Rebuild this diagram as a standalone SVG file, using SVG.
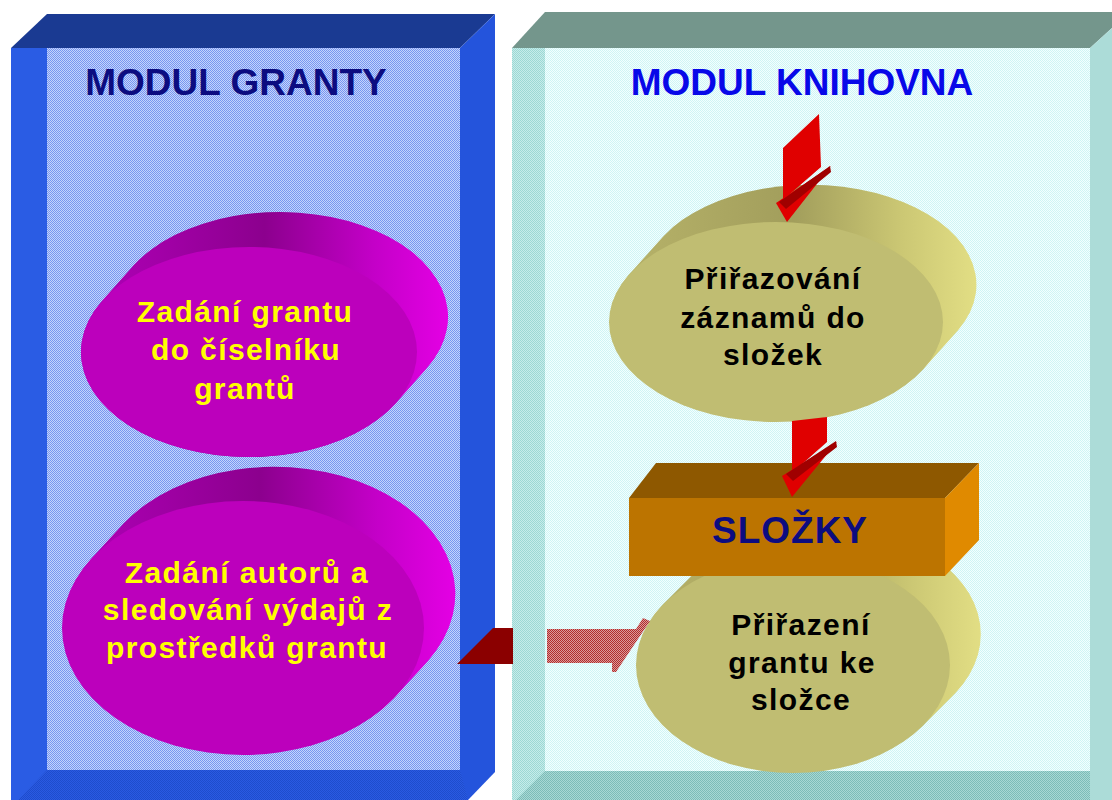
<svg xmlns="http://www.w3.org/2000/svg" width="1112" height="800" viewBox="0 0 1112 800">
<defs>
  <pattern id="dBlue" width="2" height="2" patternUnits="userSpaceOnUse"><rect width="2" height="2" fill="#c4d4fc"/><rect width="1" height="1" fill="#7896f0"/><rect x="1" y="1" width="1" height="1" fill="#7896f0"/></pattern>
  <pattern id="dBlueSide" width="2" height="2" patternUnits="userSpaceOnUse"><rect width="2" height="2" fill="#2a5ae2"/><rect width="1" height="1" fill="#1e4ccc"/><rect x="1" y="1" width="1" height="1" fill="#1e4ccc"/></pattern>
  <pattern id="dCyan" width="2" height="2" patternUnits="userSpaceOnUse"><rect width="2" height="2" fill="#f2ffff"/><rect width="1" height="1" fill="#d0f4f4"/><rect x="1" y="1" width="1" height="1" fill="#d0f4f4"/></pattern>
  <pattern id="dTeal" width="2" height="2" patternUnits="userSpaceOnUse"><rect width="2" height="2" fill="#c6ecea"/><rect width="1" height="1" fill="#9cd8d4"/><rect x="1" y="1" width="1" height="1" fill="#9cd8d4"/></pattern>
  <pattern id="dTealBot" width="2" height="2" patternUnits="userSpaceOnUse"><rect width="2" height="2" fill="#a8d8d4"/><rect width="1" height="1" fill="#7cbcb8"/><rect x="1" y="1" width="1" height="1" fill="#7cbcb8"/></pattern>
  <pattern id="dRed" width="2" height="2" patternUnits="userSpaceOnUse"><rect width="2" height="2" fill="#dc9a9a"/><rect width="1" height="1" fill="#b02c2c"/><rect x="1" y="1" width="1" height="1" fill="#b02c2c"/></pattern>
  <linearGradient id="rimMag" x1="0" y1="0" x2="1" y2="0">
    <stop offset="0" stop-color="#b200ba"/><stop offset="0.5" stop-color="#8c008e"/><stop offset="0.8" stop-color="#c400c8"/><stop offset="1" stop-color="#e400e4"/>
  </linearGradient>
  <linearGradient id="rimOl" x1="0" y1="0" x2="1" y2="0">
    <stop offset="0" stop-color="#b8b46a"/><stop offset="0.5" stop-color="#a29e5c"/><stop offset="0.8" stop-color="#ccc874"/><stop offset="1" stop-color="#e2de84"/>
  </linearGradient>
  <style>
    .mag { fill: #bc00bc; }
    .rimM { fill: url(#rimMag); }
    .ol { fill: #c0bd72; }
    .rimO { fill: url(#rimOl); }
    .title { font-family: "Liberation Sans", Arial, sans-serif; font-weight: bold; font-size: 37px; text-anchor: middle; }
    .lbl { font-family: "Liberation Sans", Arial, sans-serif; font-weight: bold; font-size: 30px; letter-spacing: 1.4px; text-anchor: middle; }
    .yel { fill: #ffff00; }
    .blk { fill: #000000; }
    .red { fill: #e00000; }
    .dred { fill: #a00000; }
  </style>
</defs>

<g id="modul-granty">
  <rect x="47" y="48" width="413" height="722" fill="url(#dBlue)"/>
  <polygon points="11,48 47,14 495,14 460,48" fill="#1a3a92"/>
  <rect x="11" y="48" width="36" height="752" fill="#2a5ce4"/>
  <polygon points="460,48 495,14 495,772 468,800 460,800" fill="#2454dc"/>
  <polygon points="47,770 460,770 468,800 18,800" fill="url(#dBlueSide)"/>
  <text class="title" x="236" y="95" fill="#0c0c80">MODUL GRANTY</text>
</g>

<g id="modul-knihovna">
  <rect x="545" y="48" width="545" height="723" fill="url(#dCyan)"/>
  <polygon points="512,48 545,12 1112,12 1112,28 1090,48" fill="#74968c"/>
  <rect x="512" y="48" width="33" height="752" fill="url(#dTeal)"/>
  <polygon points="1090,48 1112,28 1112,800 1090,800" fill="#acdcd8"/>
  <polygon points="545,771 1090,771 1090,800 516,800" fill="url(#dTealBot)"/>
  <text class="title" x="802" y="95" fill="#0808e8">MODUL KNIHOVNA</text>
</g>

<g id="zadani-grantu">
  <path class="rimM" d="M102,301.1 L133,266.1 A168,105 0 0 1 427,367.9 L396,402.9 A168,105 0 0 1 102,301.1 Z"/>
  <ellipse class="mag" cx="249" cy="352" rx="168" ry="105"/>
  <text class="lbl yel" x="245" y="322">Zadání grantu</text>
  <text class="lbl yel" x="246" y="360">do číselníku</text>
  <text class="lbl yel" x="245" y="399">grantů</text>
</g>

<g id="zadani-autoru">
  <path class="rimM" d="M90.8,559.3 L123.8,523.3 A181,127 0 0 1 428.2,660.7 L395.2,696.7 A181,127 0 0 1 90.8,559.3 Z"/>
  <ellipse class="mag" cx="243" cy="628" rx="181" ry="127"/>
  <text class="lbl yel" x="247" y="583">Zadání autorů a</text>
  <text class="lbl yel" x="248" y="620">sledování výdajů z</text>
  <text class="lbl yel" x="247" y="658">prostředků grantu</text>
</g>

<g id="prirazeni-grantu">
  <path class="rimO" d="M663.7,603.8 L696.7,570.8 A157,108 0 0 1 955.3,693.2 L922.3,726.2 A157,108 0 0 1 663.7,603.8 Z"/>
  <ellipse class="ol" cx="793" cy="665" rx="157" ry="108"/>
  <text class="lbl blk" x="801" y="635">Přiřazení</text>
  <text class="lbl blk" x="802" y="673">grantu ke</text>
  <text class="lbl blk" x="801" y="710">složce</text>
</g>

<g id="slozky">
  <polygon points="629,498 656,463 979,463 945,498" fill="#8e5800"/>
  <polygon points="945,498 979,463 979,540 945,576" fill="#e08a00"/>
  <rect x="629" y="498" width="316" height="78" fill="#bc7400"/>
  <text class="title" x="790" y="543" fill="#0c0c80" letter-spacing="1">SLOŽKY</text>
</g>

<g id="prirazovani-zaznamu">
  <path class="rimO" d="M628.9,274.7 L663.9,235.7 A167,100 0 0 1 958.1,330.3 L923.1,369.3 A167,100 0 0 1 628.9,274.7 Z"/>
  <ellipse class="ol" cx="776" cy="322" rx="167" ry="100"/>
  <text class="lbl blk" x="773" y="289">Přiřazování</text>
  <text class="lbl blk" x="773" y="328">záznamů do</text>
  <text class="lbl blk" x="773" y="365">složek</text>
</g>

<g id="connectors">
  <!-- top arrow into Přiřazování -->
  <polygon class="red" points="783,148 819,114 821,167 783,200"/>
  <polygon class="red" points="776,203 831,166 787,222"/>
  <polygon class="dred" points="779,202 830,166 831,172 786,209"/>
  <!-- arrow Přiřazování -> SLOŽKY -->
  <polygon class="red" points="792,421 827,417 827,442 792,473"/>
  <polygon class="red" points="782,476 837,442 792,497"/>
  <polygon class="dred" points="786,474 836,441 837,447 793,481"/>
  <!-- arrow Zadání autorů -> Přiřazení grantu -->
  <polygon points="493,628 513,628 513,664 457,664" fill="#8b0000"/>
  <polygon points="547,629 636,629 643,618 650,621 616,672 612,672 612,663 547,663" fill="url(#dRed)"/>
</g>
</svg>
